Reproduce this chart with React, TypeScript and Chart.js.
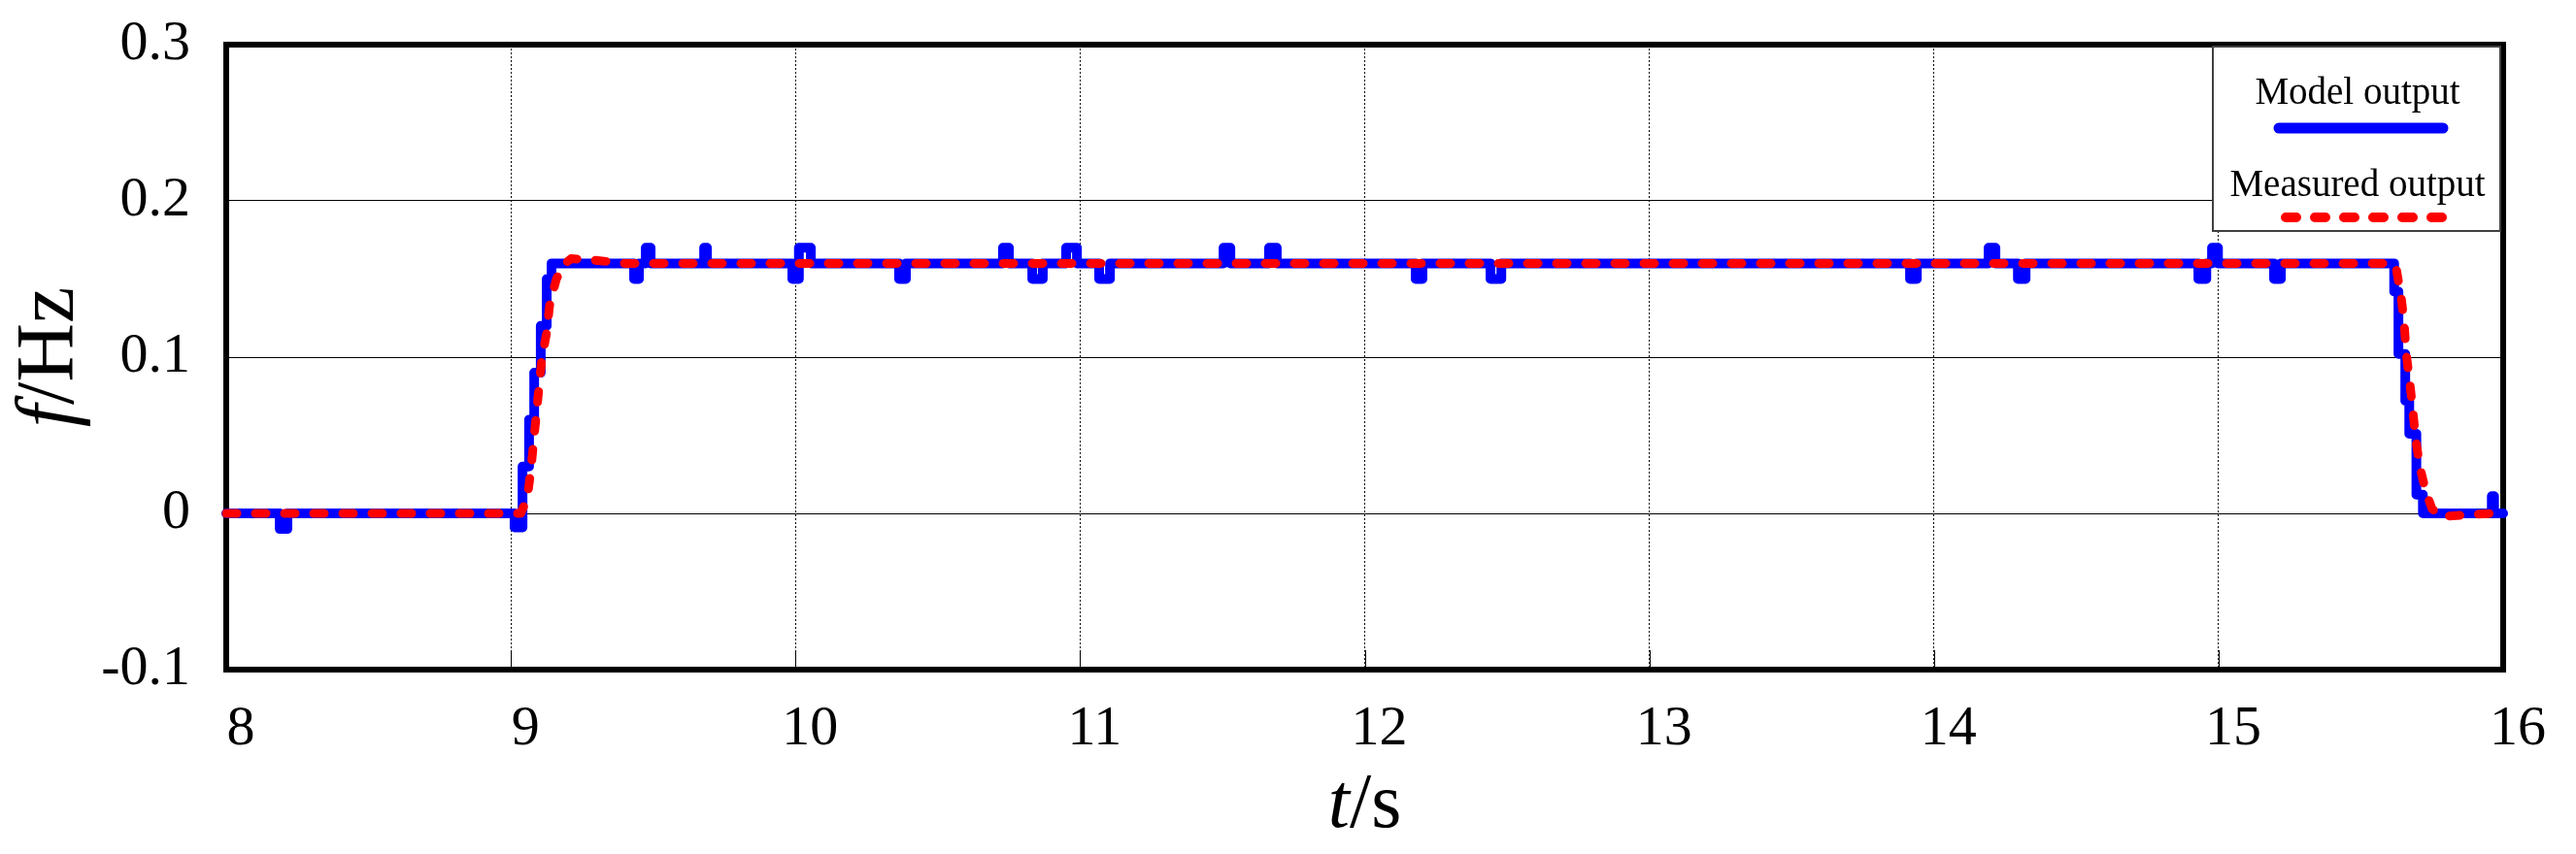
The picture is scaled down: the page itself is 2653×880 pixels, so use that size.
import React, { useEffect, useRef } from 'react';
import { Chart, registerables } from 'chart.js';

Chart.register(...registerables);

// ---------- data ----------
// Model output: stepped series, each value holds until the next time point
const modelT = [
  8.0, 8.188, 8.215, 9.013, 9.041, 9.064, 9.082, 9.105, 9.126, 9.143,
  9.433, 9.45, 9.474, 9.491, 9.679, 9.689, 9.989, 10.012, 10.054,
  10.364, 10.388, 10.729, 10.75, 10.832, 10.869, 10.951, 10.989,
  11.067, 11.105, 11.504, 11.528, 11.664, 11.691, 12.179, 12.203,
  12.442, 12.48, 13.916, 13.94, 14.192, 14.216, 14.295, 14.322,
  14.929, 14.957, 14.977, 14.998, 15.195, 15.219,
  15.617, 15.632, 15.656, 15.67, 15.695, 15.718, 15.96, 15.968, 16.0,
];
const modelF = [
  0, -0.01, 0, -0.009, 0.03, 0.06, 0.09, 0.12, 0.15, 0.16,
  0.15, 0.16, 0.17, 0.16, 0.17, 0.16, 0.15, 0.17, 0.16,
  0.15, 0.16, 0.17, 0.16, 0.15, 0.16, 0.17, 0.16,
  0.15, 0.16, 0.17, 0.16, 0.17, 0.16, 0.15, 0.16,
  0.15, 0.16, 0.15, 0.16, 0.17, 0.16, 0.15, 0.16,
  0.15, 0.16, 0.17, 0.16, 0.15, 0.16,
  0.142, 0.102, 0.072, 0.051, 0.012, 0, 0.011, 0, 0,
];

// Measured output: smooth series
const measT = [
  8.0, 9.035, 9.058, 9.071, 9.085, 9.099, 9.109, 9.126, 9.136, 9.16,
  9.185, 9.211, 9.296, 9.4, 15.615, 15.625, 15.642, 15.652, 15.659,
  15.673, 15.683, 15.693, 15.707, 15.728, 15.75, 15.779, 15.871, 15.96, 16.0,
];
const measF = [
  0, 0, 0.01, 0.029, 0.055, 0.081, 0.099, 0.116, 0.133, 0.15,
  0.159, 0.163, 0.162, 0.16, 0.16, 0.156, 0.138, 0.122, 0.103,
  0.082, 0.065, 0.047, 0.03, 0.014, 0.003, -0.002, -0.001, 0, 0,
];

const xTicks = [8, 9, 10, 11, 12, 13, 14, 15, 16];
const xTickLabels = ['8', '9', '10', '11', '12', '13', '14', '15', '16'];
const yTicks = [-0.1, 0, 0.1, 0.2, 0.3];
const yTickLabels = ['-0.1', '0', '0.1', '0.2', '0.3'];

const seriesNames = ['Model output', 'Measured output'];
const seriesColors = ['#0000FF', '#FF0000'];

const FONT = '"Liberation Serif", "Times New Roman", serif';

function drawMixed(
  ctx: CanvasRenderingContext2D,
  parts: Array<[string, boolean]>,
  x: number,
  y: number,
  size: number
) {
  const widths = parts.map(([t, it]) => {
    ctx.font = `${it ? 'italic ' : ''}${size}px ${FONT}`;
    return ctx.measureText(t).width;
  });
  const total = widths.reduce((a, b) => a + b, 0);
  let cur = x - total / 2;
  ctx.textAlign = 'left';
  ctx.textBaseline = 'alphabetic';
  parts.forEach(([t, it], i) => {
    ctx.font = `${it ? 'italic ' : ''}${size}px ${FONT}`;
    ctx.fillText(t, cur, y);
    cur += widths[i];
  });
}

const decorPlugin = {
  id: 'decor',
  beforeDatasetsDraw(chart: any) {
    const { ctx, chartArea } = chart;
    const { left, right, top, bottom } = chartArea;
    const xs = chart.scales.x;
    ctx.save();
    // inward tick marks on bottom axis
    ctx.strokeStyle = '#000';
    ctx.lineWidth = 1;
    ctx.setLineDash([]);
    xTicks.forEach((v) => {
      const px = Math.round(xs.getPixelForValue(v)) + 0.5;
      ctx.beginPath();
      ctx.moveTo(px, bottom);
      ctx.lineTo(px, bottom - 20);
      ctx.stroke();
    });
    // thick frame
    ctx.lineWidth = 6;
    ctx.strokeRect(left, top, right - left, bottom - top);
    ctx.restore();
  },
  afterDatasetsDraw(chart: any) {
    const { ctx, chartArea } = chart;
    const { left, right, top, bottom } = chartArea;
    ctx.save();
    ctx.fillStyle = '#000';
    // axis titles
    ctx.save();
    ctx.translate(75, (top + bottom) / 2);
    ctx.rotate(-Math.PI / 2);
    drawMixed(ctx, [['f', true], ['/Hz', false]], 0, 0, 84);
    ctx.restore();
    drawMixed(ctx, [['t', true], ['/s', false]], (left + right) / 2, 852, 80);

    // legend box
    const bx = right - 299;
    const by = top + 2;
    const bw = 296;
    const bh = 190;
    ctx.fillStyle = '#FFFFFF';
    ctx.fillRect(bx, by, bw, bh);
    ctx.strokeStyle = '#404040';
    ctx.lineWidth = 2;
    ctx.strokeRect(bx, by, bw, bh);
    const cx = bx + 149;
    ctx.fillStyle = '#000';
    ctx.font = `39px ${FONT}`;
    ctx.textAlign = 'center';
    ctx.textBaseline = 'alphabetic';
    ctx.fillText(seriesNames[0], cx, top + 61);
    ctx.fillText(seriesNames[1], cx, top + 156);
    ctx.lineCap = 'round';
    ctx.strokeStyle = seriesColors[0];
    ctx.lineWidth = 11;
    ctx.beginPath();
    ctx.moveTo(cx - 81, top + 86);
    ctx.lineTo(cx + 88, top + 86);
    ctx.stroke();
    ctx.strokeStyle = seriesColors[1];
    ctx.lineWidth = 10;
    ctx.setLineDash([11, 19]);
    ctx.beginPath();
    ctx.moveTo(cx - 74, top + 178);
    ctx.lineTo(cx - 74 + 161, top + 178);
    ctx.stroke();
    ctx.restore();
  },
};

export default function App() {
  const canvasRef = useRef<HTMLCanvasElement | null>(null);

  useEffect(() => {
    const canvas = canvasRef.current;
    if (!canvas) return;
    const modelData = modelT.map((t, i) => ({ x: t, y: modelF[i] }));
    const measData = measT.map((t, i) => ({ x: t, y: measF[i] }));

    const chart = new Chart(canvas, {
      type: 'line',
      data: {
        datasets: [
          {
            label: seriesNames[0],
            data: modelData,
            borderColor: seriesColors[0],
            backgroundColor: seriesColors[0],
            borderWidth: 10,
            stepped: 'before',
            pointRadius: 0,
            borderCapStyle: 'round',
            borderJoinStyle: 'round',
            fill: false,
            clip: false,
            order: 1,
          } as any,
          {
            label: seriesNames[1],
            data: measData,
            borderColor: seriesColors[1],
            backgroundColor: seriesColors[1],
            borderWidth: 9,
            borderDash: [11, 19],
            borderCapStyle: 'round',
            borderJoinStyle: 'round',
            pointRadius: 0,
            tension: 0,
            fill: false,
            clip: false,
            order: 0,
          } as any,
        ],
      },
      options: {
        animation: false,
        responsive: false,
        devicePixelRatio: 1,
        layout: { padding: { left: 0, top: 46, right: 75, bottom: 0 } },
        plugins: {
          legend: { display: false },
          tooltip: { enabled: false },
          title: { display: false },
        },
        scales: {
          x: {
            type: 'linear',
            min: 8,
            max: 16,
            afterBuildTicks: (s: any) => {
              s.ticks = xTicks.map((v) => ({ value: v }));
            },
            afterFit: (s: any) => {
              s.height = 190;
              s.paddingLeft = 0;
              s.paddingRight = 0;
            },
            ticks: {
              autoSkip: false,
              maxRotation: 0,
              padding: 27,
              labelOffset: 15,
              color: '#000',
              font: { family: FONT, size: 58 },
              callback: (v: any) => xTickLabels[xTicks.indexOf(Number(v))] ?? '',
            },
            grid: { color: '#000', lineWidth: 1, drawTicks: false },
            border: { display: false, dash: [2, 2] },
          },
          y: {
            type: 'linear',
            min: -0.1,
            max: 0.3,
            afterBuildTicks: (s: any) => {
              s.ticks = yTicks.map((v) => ({ value: v }));
            },
            afterFit: (s: any) => {
              s.width = 233;
              s.paddingTop = 0;
              s.paddingBottom = 0;
            },
            ticks: {
              padding: 37,
              color: '#000',
              font: { family: FONT, size: 58 },
              callback: (v: any) => yTickLabels[yTicks.indexOf(Number(v))] ?? '',
            },
            grid: { color: '#000', lineWidth: 1, drawTicks: false },
            border: { display: false },
          },
        },
      } as any,
      plugins: [decorPlugin],
    });
    return () => chart.destroy();
  }, []);

  return (
    <div
      style={{
        position: 'fixed',
        left: 0,
        top: 0,
        width: 2653,
        height: 880,
        background: '#fff',
      }}
    >
      <canvas
        ref={canvasRef}
        width={2653}
        height={880}
        style={{ display: 'block', width: 2653, height: 880 }}
      />
    </div>
  );
}
